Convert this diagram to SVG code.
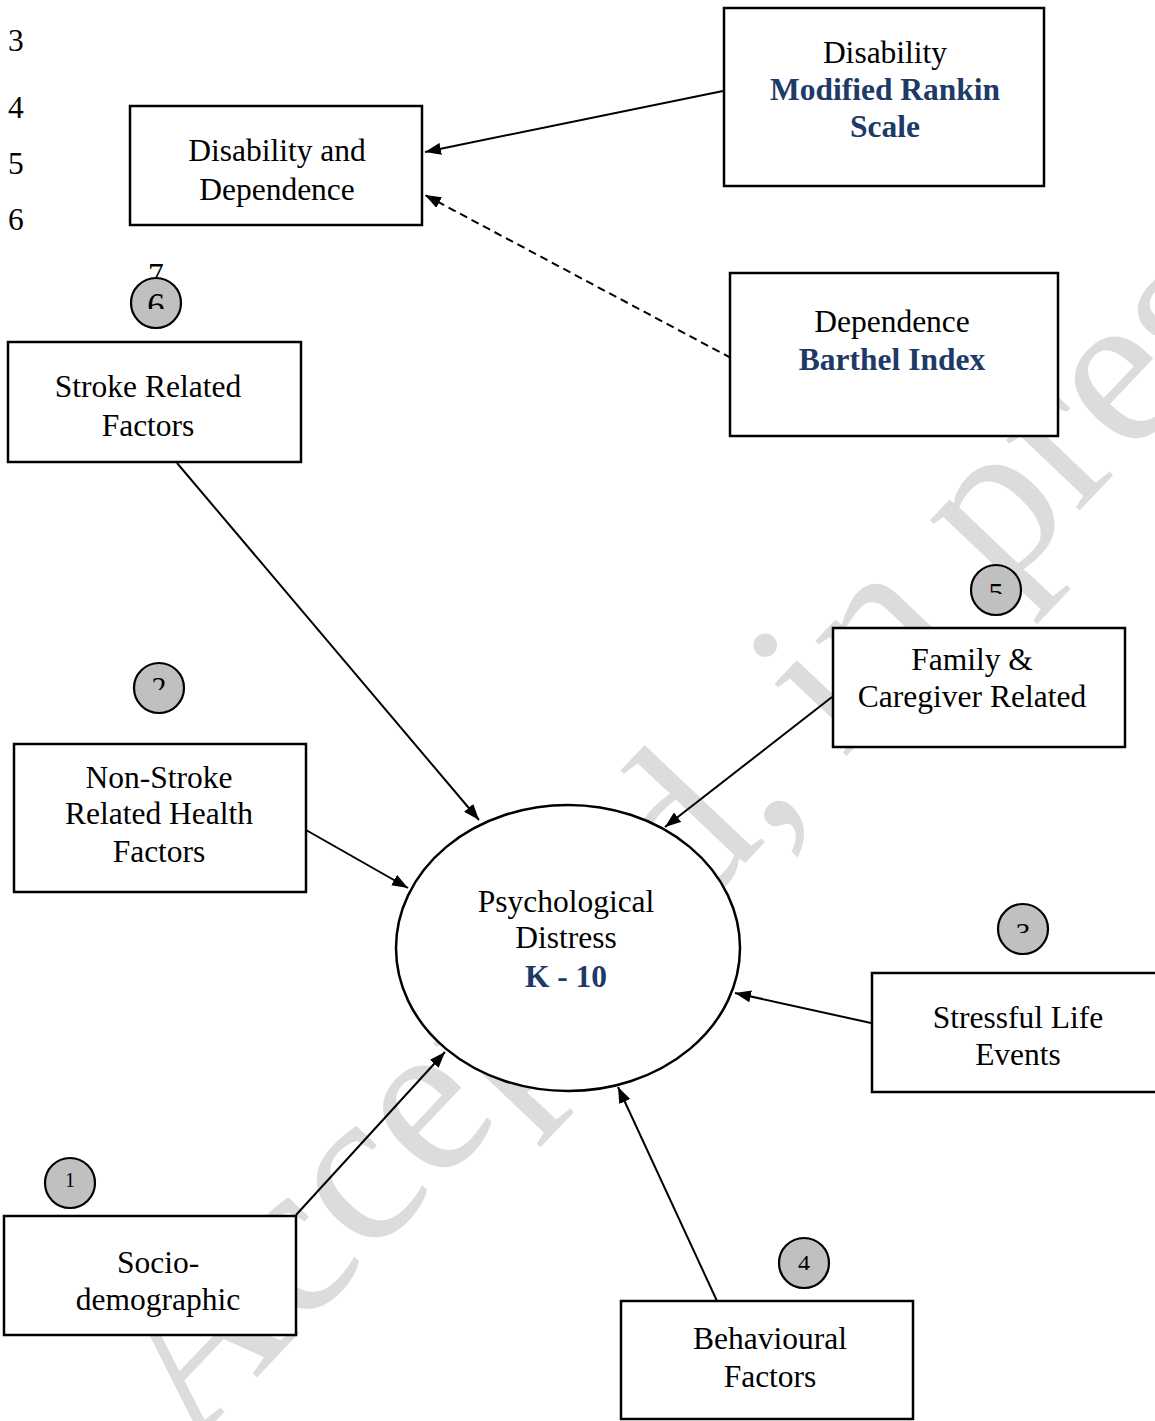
<svg xmlns="http://www.w3.org/2000/svg" width="1155" height="1421" viewBox="0 0 1155 1421">
<defs>
<style>
text{font-family:"Liberation Serif","Times New Roman",serif;font-size:31.5px;fill:#000;text-anchor:middle}
.b{font-weight:bold;fill:#203a68}
.num{text-anchor:start}
.box{fill:#fff;stroke:#000;stroke-width:2.5}
.ell{fill:#fff;stroke:#000;stroke-width:2.5}
.badge{fill:#c0c0c0;stroke:#000;stroke-width:2.2}
.badge-t{font-size:30px}
.wm{font-size:222px;fill:#dcdcdc;text-anchor:start}
.edge{stroke:#000;stroke-width:2;fill:none;marker-end:url(#ah)}
.dash{stroke-dasharray:8 5}
</style>
<marker id="ah" markerUnits="userSpaceOnUse" viewBox="0 0 16 12" refX="16" refY="6" markerWidth="16" markerHeight="12" orient="auto">
<path d="M0,0 L16,6 L0,12 z" fill="#000"/>
</marker>
<clipPath id="c6"><rect x="120" y="270" width="80" height="39"/></clipPath>
<clipPath id="c2"><rect x="120" y="655" width="80" height="35"/></clipPath>
<clipPath id="c5"><rect x="960" y="558" width="80" height="36"/></clipPath>
<clipPath id="c3"><rect x="985" y="897" width="80" height="36"/></clipPath>
<clipPath id="c4"><rect x="770" y="1230" width="80" height="40"/></clipPath>
</defs>

<text class="wm" transform="translate(190,1448) rotate(-46.5)">Accepted, in press</text>

<g id="line-numbers">
<text class="num" x="8" y="51">3</text>
<text class="num" x="8" y="118">4</text>
<text class="num" x="8" y="174">5</text>
<text class="num" x="8" y="230">6</text>
<text class="num" x="148" y="285">7</text>
</g>

<g id="connectors">
<line class="edge" x1="723" y1="91" x2="425" y2="152"/>
<line class="edge dash" x1="731" y1="358" x2="425" y2="195"/>
<line class="edge" x1="177" y1="463" x2="479" y2="820"/>
<line class="edge" x1="306" y1="830" x2="408" y2="888"/>
<line class="edge" x1="296" y1="1215" x2="445" y2="1052"/>
<line class="edge" x1="717" y1="1301" x2="618" y2="1087"/>
<line class="edge" x1="871" y1="1023" x2="735" y2="993"/>
<line class="edge" x1="832" y1="697" x2="665" y2="827"/>
</g>

<g id="disability-dependence">
<rect class="box" x="130" y="106" width="292" height="119"/>
<text x="277" y="161">Disability and</text>
<text x="277" y="200">Dependence</text>
</g>

<g id="mrs">
<rect class="box" x="724" y="8" width="320" height="178"/>
<text x="885" y="63">Disability</text>
<text class="b" x="885" y="100">Modified Rankin</text>
<text class="b" x="885" y="137">Scale</text>
</g>

<g id="barthel">
<rect class="box" x="730" y="273" width="328" height="163"/>
<text x="892" y="332">Dependence</text>
<text class="b" x="892" y="370">Barthel Index</text>
</g>

<g id="stroke-related">
<rect class="box" x="8" y="342" width="293" height="120"/>
<text x="148" y="397">Stroke Related</text>
<text x="148" y="436">Factors</text>
</g>
<g id="badge-6">
<circle class="badge" cx="156" cy="303" r="25"/>
<text class="badge-t" x="156" y="318" style="font-size:35px" clip-path="url(#c6)">6</text>
</g>

<g id="non-stroke">
<rect class="box" x="14" y="744" width="292" height="148"/>
<text x="159" y="788">Non-Stroke</text>
<text x="159" y="824">Related Health</text>
<text x="159" y="862">Factors</text>
</g>
<g id="badge-2">
<circle class="badge" cx="159" cy="688" r="25"/>
<text class="badge-t" x="159" y="697" clip-path="url(#c2)">2</text>
</g>

<g id="socio">
<rect class="box" x="4" y="1216" width="292" height="119"/>
<text x="158" y="1273">Socio-</text>
<text x="158" y="1310">demographic</text>
</g>
<g id="badge-1">
<circle class="badge" cx="70" cy="1183" r="25"/>
<text class="badge-t" x="70" y="1187" style="font-size:20px">1</text>
</g>

<g id="behavioural">
<rect class="box" x="621" y="1301" width="292" height="118"/>
<text x="770" y="1349">Behavioural</text>
<text x="770" y="1387">Factors</text>
</g>
<g id="badge-4">
<circle class="badge" cx="804" cy="1263" r="25"/>
<text class="badge-t" x="804" y="1271" style="font-size:24px" clip-path="url(#c4)">4</text>
</g>

<g id="family">
<rect class="box" x="833" y="628" width="292" height="119"/>
<text x="972" y="670">Family &amp;</text>
<text x="972" y="707">Caregiver Related</text>
</g>
<g id="badge-5">
<circle class="badge" cx="996" cy="590" r="25"/>
<text class="badge-t" x="996" y="603" clip-path="url(#c5)">5</text>
</g>

<g id="stressful">
<rect class="box" x="872" y="973" width="290" height="119"/>
<text x="1018" y="1028">Stressful Life</text>
<text x="1018" y="1065">Events</text>
</g>
<g id="badge-3">
<circle class="badge" cx="1023" cy="929" r="25"/>
<text class="badge-t" x="1023" y="943" clip-path="url(#c3)">3</text>
</g>

<g id="psych-distress">
<ellipse class="ell" cx="568" cy="948" rx="172" ry="143"/>
<text x="566" y="912">Psychological</text>
<text x="566" y="948">Distress</text>
<text class="b" x="566" y="987">K - 10</text>
</g>
</svg>
